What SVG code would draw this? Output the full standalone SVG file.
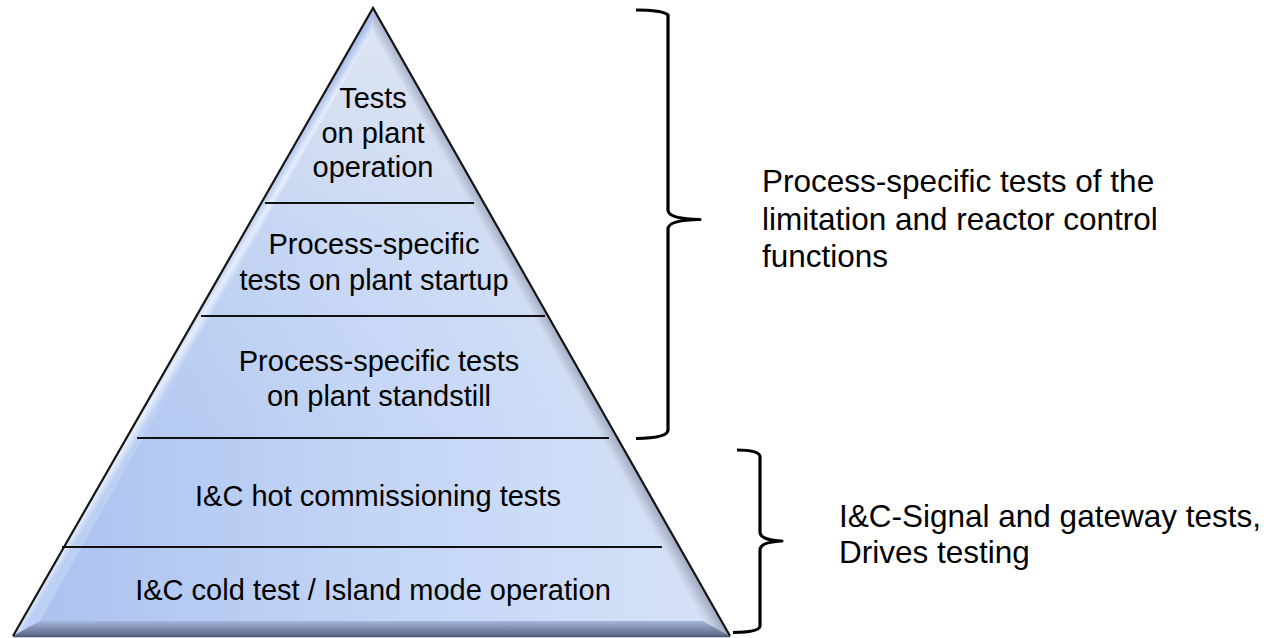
<svg xmlns="http://www.w3.org/2000/svg" width="1274" height="638" viewBox="0 0 1274 638">
  <defs>
    <linearGradient id="faceH" x1="0" y1="0" x2="1" y2="0">
      <stop offset="0" stop-color="#a9c1ee"/>
      <stop offset="0.5" stop-color="#c3d5f6"/>
      <stop offset="1" stop-color="#d6e2f8"/>
    </linearGradient>
    <linearGradient id="faceV" gradientUnits="userSpaceOnUse" x1="0" y1="8" x2="0" y2="636">
      <stop offset="0" stop-color="#e4e8f0" stop-opacity="0.85"/>
      <stop offset="0.35" stop-color="#e4e8f0" stop-opacity="0.25"/>
      <stop offset="0.7" stop-color="#e4e8f0" stop-opacity="0"/>
    </linearGradient>
    <linearGradient id="leftBevel" gradientUnits="userSpaceOnUse" x1="190" y1="318" x2="205" y2="327">
      <stop offset="0" stop-color="#a7bde8"/>
      <stop offset="0.55" stop-color="#e6eefc"/>
      <stop offset="1" stop-color="#bcd0f4"/>
    </linearGradient>
    <linearGradient id="rightBevel" gradientUnits="userSpaceOnUse" x1="540" y1="327" x2="556" y2="318">
      <stop offset="0" stop-color="#d2dbee"/>
      <stop offset="1" stop-color="#8a94ad"/>
    </linearGradient>
    <linearGradient id="bottomBevel" x1="0" y1="0" x2="0" y2="1">
      <stop offset="0" stop-color="#a4b6dc"/>
      <stop offset="1" stop-color="#5c6886"/>
    </linearGradient>
    <style>
      .label { font-family: "Liberation Sans", Arial, sans-serif; font-size: 29px; fill: #000; text-anchor: middle; }
      .note { font-family: "Liberation Sans", Arial, sans-serif; font-size: 31.5px; fill: #000; }
      .divider { stroke: #111; stroke-width: 2; fill: none; }
      .brace { stroke: #000; stroke-width: 3.2; fill: none; stroke-linecap: butt; stroke-linejoin: round; }
    </style>
  </defs>

  <!-- pyramid body with bevelled edges -->
  <g id="pyramid">
    <polygon points="373,8 730,636 13,636" fill="url(#faceH)"/>
    <polygon points="373,8 730,636 13,636" fill="url(#faceV)"/>
    <polygon points="373,8 13,636 40,621 373,30" fill="url(#leftBevel)"/>
    <polygon points="373,8 730,636 703,621 373,30" fill="url(#rightBevel)"/>
    <polygon points="13,636 730,636 703,621 40,621" fill="url(#bottomBevel)"/>
    <polyline points="13,636 373,8 730,636" fill="none" stroke="#151515" stroke-width="2.2" stroke-linejoin="miter"/>
    <line x1="13" y1="636.5" x2="730" y2="636.5" stroke="#4a5570" stroke-width="1.5"/>
  </g>

  <!-- tier separators -->
  <g id="dividers">
    <line class="divider" x1="265" y1="203" x2="474" y2="203"/>
    <line class="divider" x1="201" y1="316" x2="545" y2="316"/>
    <line class="divider" x1="137" y1="438" x2="609" y2="438"/>
    <line class="divider" x1="62" y1="547" x2="662" y2="547"/>
  </g>

  <g id="tier-operation">
    <text class="label" x="373" y="108">Tests</text>
    <text class="label" x="373" y="143">on plant</text>
    <text class="label" x="373" y="177">operation</text>
  </g>

  <g id="tier-startup">
    <text class="label" x="374" y="254">Process-specific</text>
    <text class="label" x="374" y="290">tests on plant startup</text>
  </g>

  <g id="tier-standstill">
    <text class="label" x="379" y="371">Process-specific tests</text>
    <text class="label" x="379" y="406">on plant standstill</text>
  </g>

  <g id="tier-hot">
    <text class="label" x="378" y="506">I&amp;C hot commissioning tests</text>
  </g>

  <g id="tier-cold">
    <text class="label" x="373" y="600">I&amp;C cold test / Island mode operation</text>
  </g>

  <!-- curly braces grouping the tiers -->
  <g id="connectors">
    <path class="brace" d="M636,10 Q662,10 668,15 L668,210 Q668,219 700,219.5 Q668,220 668,229 L668,430 Q668,438 636,438.5"/>
    <path class="brace" d="M737,450 Q758,450 760,456 L760,532 Q760,540 782,541 Q760,542 760,550 L760,626 Q760,632 733,632.5"/>
  </g>

  <g id="note-process">
    <text class="note" x="762" y="192">Process-specific tests of the</text>
    <text class="note" x="762" y="230">limitation and reactor control</text>
    <text class="note" x="762" y="267">functions</text>
  </g>

  <g id="note-signal">
    <text class="note" x="839" y="527">I&amp;C-Signal and gateway tests,</text>
    <text class="note" x="839" y="563">Drives testing</text>
  </g>
</svg>
